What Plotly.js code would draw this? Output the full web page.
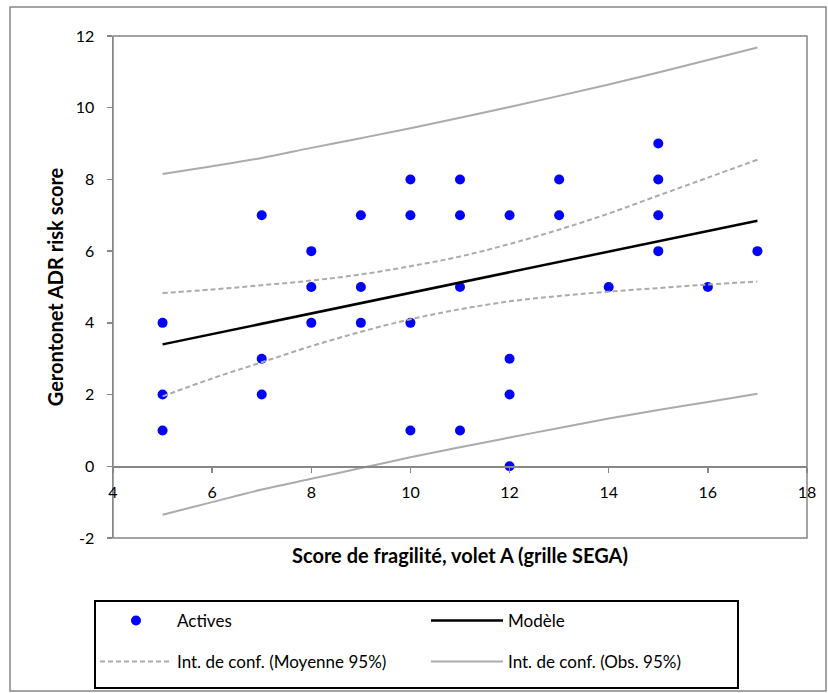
<!DOCTYPE html>
<html>
<head>
<meta charset="utf-8">
<script src="https://cdn.plot.ly/plotly-3.0.1.min.js"></script>
<style>html,body{margin:0;padding:0;background:#fff;}</style>
</head>
<body>
<div id="chart" style="width:828px;height:693px;"></div>
<script>
// Observations (Actives)
const xActives = [5,5,5,7,7,7,8,8,8,9,9,9,10,10,10,10,11,11,11,11,12,12,12,12,13,13,14,15,15,15,15,16,17];
const yActives = [4,2,1,7,3,2,6,5,4,7,5,4,8,7,4,1,8,7,5,1,7,3,2,0,8,7,5,9,8,7,6,5,6];

// Model line
const xModel = [5,17];
const yModel = [3.40,6.85];

// Confidence bands (read at x = 5..17)
const xBand = [5,6,7,8,9,10,11,12,13,14,15,16,17];
const meanUpper = [4.83,4.93,5.05,5.18,5.35,5.58,5.85,6.20,6.60,7.05,7.55,8.05,8.55];
const meanLower = [1.95,2.45,2.90,3.35,3.75,4.10,4.38,4.60,4.75,4.87,4.97,5.07,5.15];
const obsUpper = [8.15,8.37,8.60,8.88,9.15,9.43,9.72,10.02,10.33,10.65,10.98,11.33,11.68];
const obsLower = [-1.35,-1.00,-0.65,-0.35,-0.05,0.25,0.53,0.80,1.07,1.33,1.57,1.79,2.02];

const xTicks = [4,6,8,10,12,14,16,18];
const yTicks = [-2,0,2,4,6,8,10,12];

const names = {
  actives: 'Actives',
  model: 'Modèle',
  meanCI: 'Int. de conf. (Moyenne 95%)',
  obsCI: 'Int. de conf. (Obs. 95%)'
};

const FONT = 'Lato, "Liberation Sans", sans-serif';
const AXIS_GREY = '#878787';
const CI_GREY = '#ababab';

const traces = [
  {x: xActives, y: yActives, type: 'scatter', mode: 'markers', name: names.actives,
   marker: {color: '#0000ff', size: 10}, legend: 'legend'},
  {x: xModel, y: yModel, type: 'scatter', mode: 'lines', name: names.model,
   line: {color: '#000000', width: 2.5}, legend: 'legend'},
  {x: xBand, y: meanUpper, type: 'scatter', mode: 'lines', name: names.meanCI,
   line: {color: CI_GREY, width: 2, dash: '5px,3px', shape: 'spline'}, legend: 'legend2', legendgroup: 'm'},
  {x: xBand, y: meanLower, type: 'scatter', mode: 'lines', name: names.meanCI, showlegend: false,
   line: {color: CI_GREY, width: 2, dash: '5px,3px', shape: 'spline'}, legend: 'legend2', legendgroup: 'm'},
  {x: xBand, y: obsUpper, type: 'scatter', mode: 'lines', name: names.obsCI,
   line: {color: CI_GREY, width: 2, shape: 'spline'}, legend: 'legend2', legendgroup: 'o'},
  {x: xBand, y: obsLower, type: 'scatter', mode: 'lines', name: names.obsCI, showlegend: false,
   line: {color: CI_GREY, width: 2, shape: 'spline'}, legend: 'legend2', legendgroup: 'o'}
];

// plot area in px: left 113, right 807, top 36, bottom 538
const L = 113, R = 807, T = 36, B = 538;
const px = v => (v - L) / (R - L);
const py = v => (B - v) / (B - T);

const legendCommon = {
  orientation: 'h', xanchor: 'left', yanchor: 'middle',
  font: {family: FONT, size: 17, color: '#000'},
  bgcolor: 'rgba(0,0,0,0)', borderwidth: 0,
  itemwidth: 72, entrywidthmode: 'pixels', entrywidth: 244,
  itemclick: false, itemdoubleclick: false
};

const layout = {
  width: 828, height: 693,
  margin: {l: L, r: 828 - R, t: T, b: 693 - B},
  paper_bgcolor: '#fff', plot_bgcolor: '#fff',
  font: {family: FONT, size: 16, color: '#000'},
  showlegend: true,
  xaxis: {
    range: [4, 18], tickvals: xTicks, ticktext: xTicks.map(String),
    anchor: 'free', position: 2 / 14,
    showline: true, linecolor: AXIS_GREY, linewidth: 1.5,
    ticks: 'outside', ticklen: 5, tickcolor: AXIS_GREY, tickwidth: 1.5,
    showgrid: false, zeroline: false,
    tickfont: {family: FONT, size: 16, color: '#000'},
    ticklabelstandoff: 6,
    title: {text: 'Score de fragilité, volet A (grille SEGA)', standoff: 49,
            font: {family: FONT, size: 20, color: '#000', weight: 'bold'}}
  },
  xaxis2: {
    range: [4, 18], tickvals: xTicks, overlaying: 'x', anchor: 'free', position: 2 / 14,
    showline: false, ticks: 'inside', ticklen: 5, tickcolor: AXIS_GREY, tickwidth: 1.5,
    showticklabels: false, showgrid: false, zeroline: false
  },
  yaxis: {
    range: [-2, 12], tickvals: yTicks, ticktext: yTicks.map(String),
    showline: true, linecolor: AXIS_GREY, linewidth: 1.5,
    ticks: 'outside', ticklen: 5, tickcolor: AXIS_GREY, tickwidth: 1.5,
    showgrid: false, zeroline: false,
    tickfont: {family: FONT, size: 16, color: '#000'},
    ticklabelstandoff: 9,
    title: {text: 'Gerontonet ADR risk score', standoff: 6,
            font: {family: FONT, size: 20, color: '#000', weight: 'bold'}}
  },
  yaxis2: {
    range: [-2, 12], tickvals: yTicks, overlaying: 'y', side: 'left',
    showline: false, ticks: 'inside', ticklen: 5, tickcolor: AXIS_GREY, tickwidth: 1.5,
    showticklabels: false, showgrid: false, zeroline: false
  },
  legend: Object.assign({}, legendCommon, {x: px(95), y: py(621)}),
  legend2: Object.assign({}, legendCommon, {x: px(95), y: py(662)}),
  shapes: [
    // outer chart frame
    {type: 'rect', xref: 'paper', yref: 'paper', x0: px(10), x1: px(826), y0: py(691), y1: py(7),
     line: {color: AXIS_GREY, width: 1.5}, layer: 'below'},
    // plot area frame
    {type: 'rect', xref: 'paper', yref: 'paper', x0: 0, x1: 1, y0: 0, y1: 1,
     line: {color: AXIS_GREY, width: 1.5}, layer: 'below'},
    // legend box
    {type: 'rect', xref: 'paper', yref: 'paper', x0: px(95), x1: px(738), y0: py(688), y1: py(601),
     line: {color: '#000', width: 2}, layer: 'below'}
  ]
};

Plotly.newPlot('chart', traces, layout, {displayModeBar: false, staticPlot: true});
</script>
</body>
</html>
